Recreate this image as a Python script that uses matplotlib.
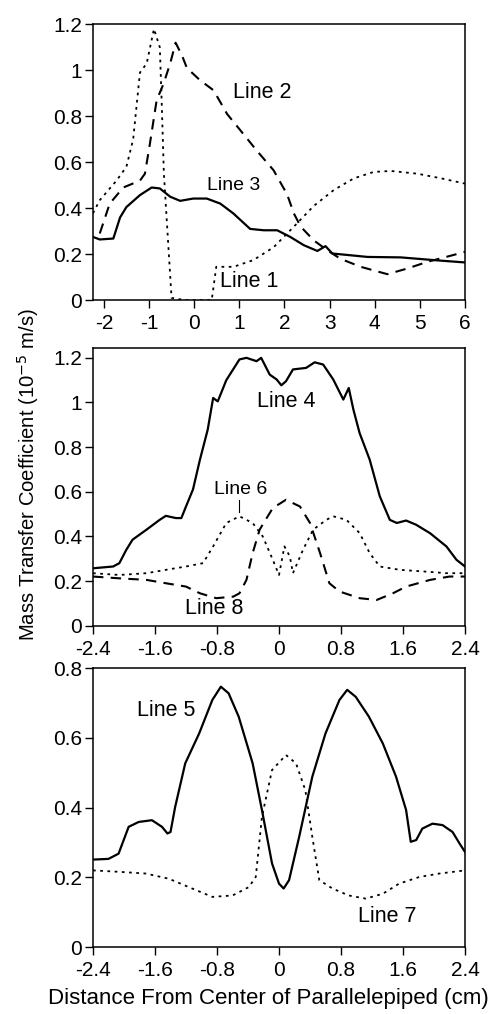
import matplotlib
matplotlib.use("Agg")
import matplotlib.pyplot as plt

plt.rcParams['font.family'] = ['Liberation Sans', 'DejaVu Sans']

# ---- top panel: Lines 1-3 ----
l1_x = [-2.24, -2.09, -1.72, -1.50, -1.35, -1.20, -1.05, -0.89, -0.76, -0.72, -0.67, -0.61, -0.50,
        -0.20, 0.10, 0.39, 0.49, 0.87, 1.31, 1.76, 2.21, 2.65, 3.10, 3.54, 3.98, 4.36, 4.95, 5.47, 6.0]
l1_y = [0.378, 0.435, 0.52, 0.58, 0.70, 0.99, 1.03, 1.18, 1.10, 0.87, 0.55, 0.36, 0.01,
        0.0, 0.0, 0.0, 0.145, 0.145, 0.174, 0.23, 0.32, 0.41, 0.48, 0.53, 0.558, 0.562, 0.55, 0.53, 0.507]

l2_x = [-2.09, -1.87, -1.57, -1.20, -1.09, -0.98, -0.83, -0.68, -0.53, -0.41, -0.27, -0.16, 0.13,
        0.43, 0.73, 1.02, 1.39, 1.76, 2.06, 2.21, 2.36, 2.65, 2.95, 3.24, 3.69, 4.28, 4.73, 5.17, 5.62, 6.0]
l2_y = [0.29, 0.42, 0.49, 0.52, 0.55, 0.68, 0.87, 0.94, 1.03, 1.12, 1.065, 1.01, 0.957,
        0.913, 0.81, 0.74, 0.65, 0.565, 0.46, 0.377, 0.32, 0.26, 0.217, 0.18, 0.145, 0.113, 0.138, 0.167, 0.19, 0.21]

l3_x = [-2.24, -2.09, -1.79, -1.64, -1.50, -1.20, -0.94, -0.76, -0.53, -0.31, -0.02, 0.28, 0.58,
        0.87, 1.24, 1.54, 1.84, 2.13, 2.43, 2.73, 2.91, 3.06, 3.84, 4.58, 5.32, 6.0]
l3_y = [0.275, 0.264, 0.268, 0.36, 0.405, 0.457, 0.49, 0.486, 0.45, 0.432, 0.442, 0.442, 0.42,
        0.377, 0.31, 0.304, 0.304, 0.275, 0.239, 0.214, 0.235, 0.203, 0.188, 0.186, 0.174, 0.164]

# ---- middle panel: Lines 4, 6, 8 ----
l4_x = [-2.40, -2.14, -2.06, -1.97, -1.89, -1.71, -1.54, -1.46, -1.33, -1.26, -1.20, -1.11, -1.02,
        -0.92, -0.85, -0.79, -0.68, -0.51, -0.42, -0.29, -0.23, -0.12, -0.03, 0.03, 0.09, 0.18, 0.35,
        0.46, 0.57, 0.70, 0.83, 0.90, 0.96, 1.04, 1.17, 1.30, 1.43, 1.52, 1.64, 1.77, 1.95, 2.16, 2.29, 2.40]
l4_y = [0.257, 0.265, 0.28, 0.34, 0.385, 0.43, 0.474, 0.492, 0.482, 0.482, 0.534, 0.61, 0.744,
        0.878, 1.02, 1.005, 1.10, 1.193, 1.20, 1.185, 1.20, 1.125, 1.103, 1.077, 1.095, 1.148, 1.155,
        1.18, 1.17, 1.103, 1.013, 1.065, 0.968, 0.863, 0.744, 0.58, 0.474, 0.46, 0.471, 0.452, 0.414, 0.355, 0.295, 0.265]

l6_x = [-2.40, -2.06, -1.71, -1.46, -1.20, -0.98, -0.85, -0.68, -0.51, -0.34, -0.21, -0.08, 0.00,
        0.07, 0.14, 0.18, 0.31, 0.44, 0.61, 0.70, 0.87, 1.04, 1.17, 1.30, 1.56, 1.90, 2.16, 2.40]
l6_y = [0.235, 0.227, 0.235, 0.25, 0.265, 0.28, 0.355, 0.46, 0.49, 0.46, 0.40, 0.295, 0.227,
        0.355, 0.31, 0.235, 0.34, 0.43, 0.474, 0.49, 0.474, 0.415, 0.325, 0.265, 0.25, 0.242, 0.235, 0.235]

l8_x = [-2.40, -2.06, -1.71, -1.46, -1.20, -1.02, -0.81, -0.59, -0.51, -0.42, -0.34, -0.25, -0.08,
        0.09, 0.27, 0.40, 0.53, 0.65, 0.78, 1.04, 1.26, 1.47, 1.64, 1.95, 2.20, 2.40]
l8_y = [0.22, 0.212, 0.205, 0.19, 0.175, 0.145, 0.123, 0.13, 0.145, 0.205, 0.325, 0.43, 0.527,
        0.564, 0.534, 0.46, 0.325, 0.19, 0.153, 0.123, 0.115, 0.145, 0.175, 0.205, 0.22, 0.22]

# ---- bottom panel: Lines 5, 7 ----
l5_x = [-2.40, -2.20, -2.07, -1.94, -1.81, -1.64, -1.51, -1.44, -1.40, -1.34, -1.21, -1.03, -0.86,
        -0.75, -0.65, -0.52, -0.34, -0.22, -0.09, 0.00, 0.06, 0.13, 0.26, 0.43, 0.60, 0.78, 0.88,
        0.99, 1.16, 1.34, 1.51, 1.64, 1.70, 1.77, 1.85, 1.98, 2.11, 2.24, 2.33, 2.40]
l5_y = [0.251, 0.253, 0.268, 0.345, 0.359, 0.364, 0.345, 0.326, 0.33, 0.402, 0.527, 0.613, 0.709,
        0.747, 0.728, 0.661, 0.527, 0.393, 0.24, 0.182, 0.168, 0.192, 0.316, 0.489, 0.613, 0.709, 0.738,
        0.718, 0.661, 0.584, 0.489, 0.393, 0.302, 0.307, 0.34, 0.354, 0.35, 0.33, 0.297, 0.273]

l7_x = [-2.40, -2.07, -1.72, -1.42, -1.12, -0.86, -0.60, -0.39, -0.30, -0.22, -0.09, 0.09, 0.22,
        0.34, 0.43, 0.52, 0.69, 0.90, 1.12, 1.34, 1.55, 1.81, 2.07, 2.40]
l7_y = [0.22, 0.216, 0.211, 0.196, 0.168, 0.144, 0.148, 0.172, 0.201, 0.374, 0.508, 0.551, 0.527,
        0.45, 0.316, 0.192, 0.168, 0.148, 0.139, 0.153, 0.182, 0.201, 0.211, 0.22]

top_ticks = [-2, -1, 0, 1, 2, 3, 4, 5, 6]
sym_ticks = [-2.4, -1.6, -0.8, 0, 0.8, 1.6, 2.4]
sym_labels = ['-2.4', '-1.6', '-0.8', '0', '0.8', '1.6', '2.4']

solid = dict(color='black', lw=1.6, ls='-')
dashed = dict(color='black', lw=1.5, ls=(0, (5, 3.5)))
dotted = dict(color='black', lw=1.3, ls=(0, (1.5, 2.5)))

LBL = 15.5

fig = plt.figure(figsize=(4.96, 10.14), dpi=100)
ax1 = fig.add_axes([0.1875, 0.704, 0.75, 0.272])
ax2 = fig.add_axes([0.1875, 0.383, 0.75, 0.274])
ax3 = fig.add_axes([0.1875, 0.066, 0.75, 0.275])


def style(ax):
    ax.tick_params(direction='out', length=6, width=1, labelsize=15, pad=2)
    ax.tick_params(axis='x', pad=4)
    for s in ax.spines.values():
        s.set_linewidth(1.1)


ax1.plot(l1_x, l1_y, **dotted)
ax1.plot(l2_x, l2_y, **dashed)
ax1.plot(l3_x, l3_y, **solid)
ax1.set_xlim(-2.24, 6)
ax1.set_ylim(0, 1.2)
ax1.set_xticks(top_ticks)
ax1.set_xticklabels([str(t) for t in top_ticks])
ax1.set_yticks([0, 0.2, 0.4, 0.6, 0.8, 1, 1.2])
ax1.set_yticklabels(['0', '0.2', '0.4', '0.6', '0.8', '1', '1.2'])
ax1.text(1.5, 0.905, 'Line 2', fontsize=LBL, ha='center', va='center')
ax1.text(0.87, 0.50, 'Line 3', fontsize=14, ha='center', va='center')
ax1.text(1.21, 0.08, 'Line 1', fontsize=LBL, ha='center', va='center')
style(ax1)

ax2.plot(l4_x, l4_y, **solid)
ax2.plot(l6_x, l6_y, **dotted)
ax2.plot(l8_x, l8_y, **dashed)
ax2.set_xlim(-2.4, 2.4)
ax2.set_ylim(0, 1.245)
ax2.set_xticks(sym_ticks)
ax2.set_xticklabels(sym_labels)
ax2.set_yticks([0, 0.2, 0.4, 0.6, 0.8, 1, 1.2])
ax2.set_yticklabels(['0', '0.2', '0.4', '0.6', '0.8', '1', '1.2'])
ax2.text(0.09, 1.005, 'Line 4', fontsize=LBL, ha='center', va='center')
ax2.text(-0.50, 0.61, 'Line 6', fontsize=14, ha='center', va='center')
ax2.plot([-0.51, -0.51], [0.508, 0.563], color='black', lw=0.8)
ax2.text(-0.84, 0.078, 'Line 8', fontsize=LBL, ha='center', va='center')
style(ax2)

ax3.plot(l5_x, l5_y, **solid)
ax3.plot(l7_x, l7_y, **dotted)
ax3.set_xlim(-2.4, 2.4)
ax3.set_ylim(0, 0.8)
ax3.set_xticks(sym_ticks)
ax3.set_xticklabels(sym_labels)
ax3.set_yticks([0, 0.2, 0.4, 0.6, 0.8])
ax3.set_yticklabels(['0', '0.2', '0.4', '0.6', '0.8'])
ax3.text(-1.46, 0.68, 'Line 5', fontsize=LBL, ha='center', va='center')
ax3.text(1.40, 0.089, 'Line 7', fontsize=LBL, ha='center', va='center')
style(ax3)

fig.text(0.056, 0.5325, 'Mass Transfer Coefficient (10$^{-5}$ m/s)', rotation=90,
         ha='center', va='center', fontsize=14.6)
fig.text(0.542, 0.015, 'Distance From Center of Parallelepiped (cm)',
         ha='center', va='center', fontsize=16)

fig.savefig('out.png', dpi=100)
